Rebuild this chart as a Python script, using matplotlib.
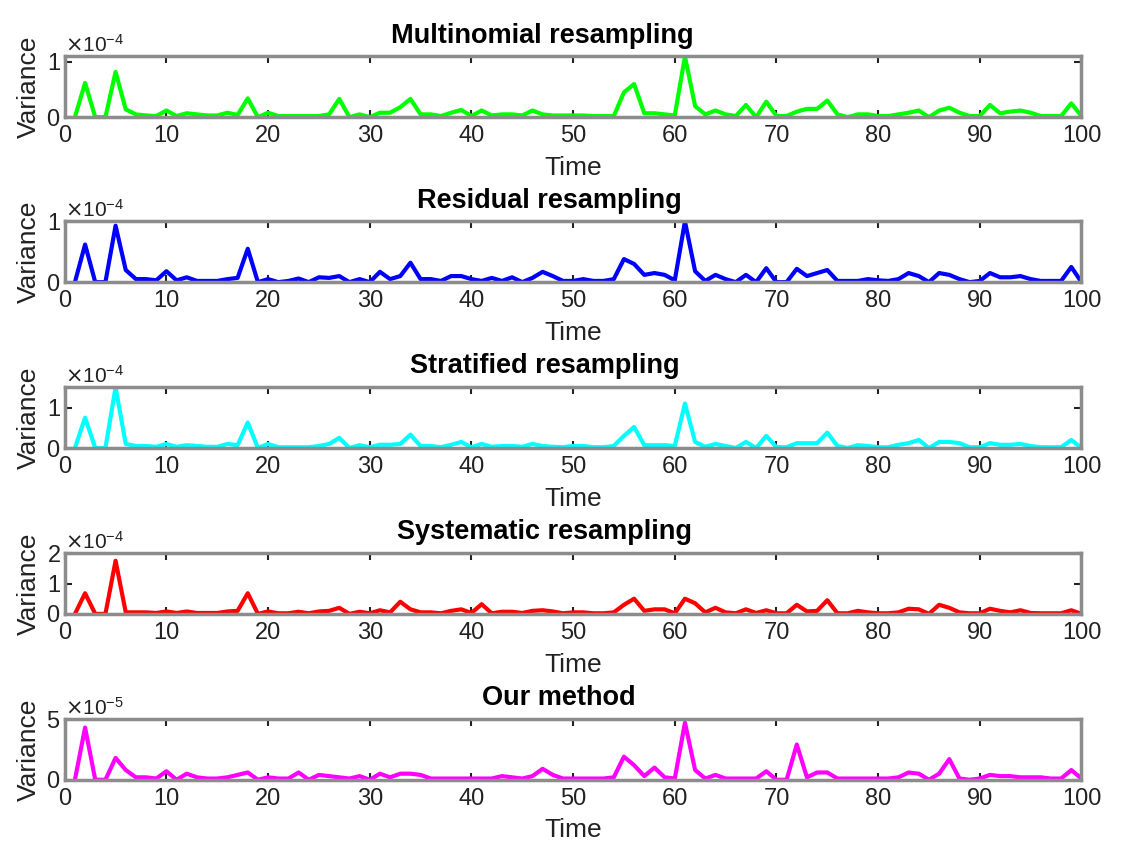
import matplotlib.pyplot as plt
import numpy as np
from matplotlib.ticker import ScalarFormatter

plt.rcParams['font.family'] = ['Liberation Sans', 'DejaVu Sans']

t = np.arange(1, 101)

# variance values (units 1e-4, last one 1e-5)
multinomial = [
    0, 0.62, 0, 0, 0.82, 0.14, 0.05, 0.03, 0.02, 0.12,
    0.02, 0.07, 0.05, 0.03, 0.03, 0.08, 0.04, 0.34, 0.0, 0.08,
    0.02, 0.02, 0.02, 0.02, 0.02, 0.05, 0.33, 0.0, 0.05, 0.0,
    0.08, 0.08, 0.18, 0.33, 0.05, 0.05, 0.02, 0.08, 0.13, 0.02,
    0.12, 0.03, 0.05, 0.05, 0.03, 0.12, 0.05, 0.03, 0.03, 0.03,
    0.03, 0.02, 0.02, 0.02, 0.45, 0.6, 0.07, 0.07, 0.05, 0.03,
    1.1, 0.2, 0.05, 0.12, 0.05, 0.02, 0.22, 0.0, 0.28, 0.02,
    0.02, 0.1, 0.15, 0.15, 0.3, 0.05, 0.0, 0.05, 0.05, 0.02,
    0.02, 0.05, 0.08, 0.12, 0.0, 0.12, 0.17, 0.08, 0.02, 0.02,
    0.22, 0.07, 0.1, 0.12, 0.08, 0.02, 0.02, 0.02, 0.25, 0.02]
residual = [
    0, 0.62, 0, 0, 0.93, 0.2, 0.05, 0.05, 0.03, 0.18,
    0.03, 0.08, 0.02, 0.02, 0.02, 0.05, 0.07, 0.55, 0.0, 0.05,
    0.0, 0.02, 0.06, 0.0, 0.08, 0.07, 0.1, 0.0, 0.05, 0.0,
    0.17, 0.05, 0.1, 0.32, 0.05, 0.05, 0.02, 0.1, 0.1, 0.05,
    0.02, 0.07, 0.02, 0.08, 0.0, 0.07, 0.17, 0.1, 0.02, 0.02,
    0.05, 0.02, 0.02, 0.05, 0.38, 0.3, 0.12, 0.15, 0.12, 0.03,
    1.0, 0.18, 0.02, 0.12, 0.05, 0.0, 0.12, 0.0, 0.23, 0.0,
    0.0, 0.22, 0.1, 0.15, 0.2, 0.02, 0.02, 0.02, 0.05, 0.03,
    0.02, 0.05, 0.15, 0.1, 0.0, 0.15, 0.12, 0.05, 0.0, 0.02,
    0.15, 0.08, 0.08, 0.1, 0.05, 0.02, 0.02, 0.02, 0.25, 0.0]
stratified = [
    0, 0.75, 0, 0, 1.5, 0.1, 0.05, 0.05, 0.03, 0.1,
    0.03, 0.07, 0.05, 0.03, 0.03, 0.1, 0.07, 0.63, 0.0, 0.1,
    0.02, 0.02, 0.02, 0.02, 0.05, 0.1, 0.25, 0.0, 0.07, 0.02,
    0.08, 0.08, 0.1, 0.33, 0.05, 0.05, 0.02, 0.08, 0.15, 0.02,
    0.1, 0.03, 0.05, 0.05, 0.03, 0.1, 0.05, 0.03, 0.02, 0.05,
    0.05, 0.02, 0.02, 0.05, 0.3, 0.52, 0.07, 0.07, 0.07, 0.05,
    1.1, 0.15, 0.03, 0.1, 0.05, 0.0, 0.15, 0.0, 0.3, 0.02,
    0.02, 0.12, 0.12, 0.12, 0.38, 0.05, 0.0, 0.07, 0.05, 0.02,
    0.02, 0.08, 0.12, 0.2, 0.0, 0.15, 0.15, 0.12, 0.02, 0.02,
    0.12, 0.08, 0.08, 0.1, 0.05, 0.02, 0.02, 0.02, 0.2, 0.0]
systematic = [
    0, 0.68, 0, 0, 1.75, 0.05, 0.05, 0.05, 0.03, 0.08,
    0.03, 0.08, 0.03, 0.03, 0.03, 0.08, 0.1, 0.68, 0.0, 0.08,
    0.02, 0.02, 0.07, 0.02, 0.08, 0.1, 0.2, 0.0, 0.07, 0.02,
    0.12, 0.05, 0.4, 0.15, 0.05, 0.05, 0.02, 0.1, 0.15, 0.03,
    0.32, 0.02, 0.07, 0.07, 0.03, 0.1, 0.12, 0.08, 0.02, 0.05,
    0.05, 0.02, 0.02, 0.05, 0.3, 0.5, 0.1, 0.15, 0.15, 0.02,
    0.5, 0.35, 0.05, 0.2, 0.05, 0.02, 0.15, 0.03, 0.12, 0.02,
    0.02, 0.3, 0.08, 0.1, 0.45, 0.02, 0.02, 0.1, 0.05, 0.02,
    0.02, 0.05, 0.17, 0.15, 0.0, 0.3, 0.2, 0.05, 0.02, 0.02,
    0.17, 0.1, 0.05, 0.12, 0.03, 0.02, 0.02, 0.02, 0.12, 0.0]
ours = [
    0, 4.3, 0, 0, 1.8, 0.8, 0.2, 0.2, 0.1, 0.7,
    0.0, 0.5, 0.2, 0.1, 0.1, 0.2, 0.4, 0.6, 0.0, 0.2,
    0.1, 0.1, 0.6, 0.0, 0.4, 0.3, 0.2, 0.1, 0.3, 0.0,
    0.5, 0.2, 0.5, 0.5, 0.4, 0.1, 0.1, 0.1, 0.1, 0.1,
    0.1, 0.1, 0.3, 0.2, 0.1, 0.3, 0.9, 0.4, 0.1, 0.1,
    0.1, 0.1, 0.1, 0.2, 1.9, 1.2, 0.3, 1.0, 0.2, 0.1,
    4.7, 0.8, 0.1, 0.4, 0.1, 0.1, 0.1, 0.1, 0.7, 0.0,
    0.0, 2.9, 0.2, 0.6, 0.6, 0.1, 0.1, 0.1, 0.1, 0.1,
    0.1, 0.2, 0.6, 0.5, 0.0, 0.5, 1.7, 0.1, 0.0, 0.1,
    0.4, 0.3, 0.3, 0.2, 0.2, 0.2, 0.1, 0.1, 0.8, 0.1]

titles = ['Multinomial resampling', 'Residual resampling',
          'Stratified resampling', 'Systematic resampling', 'Our method']
series = [multinomial, residual, stratified, systematic, ours]
scales = [1e-4, 1e-4, 1e-4, 1e-4, 1e-5]
colors = ['#00ff00', '#0000ff', '#00ffff', '#ff0000', '#ff00ff']
ylims = [1.1, 1.0, 1.5, 2.0, 5.0]
yticks = [[0, 1], [0, 1], [0, 1], [0, 1, 2], [0, 5]]
title_x = [0.47, 0.477, 0.472, 0.472, 0.486]

fig = plt.figure(figsize=(11.36, 8.55), dpi=100)
bottoms = [0.863, 0.670, 0.476, 0.282, 0.088]

for i in range(5):
    ax = fig.add_axes([0.057, bottoms[i], 0.895, 0.071])
    y = np.array(series[i]) * scales[i]
    ax.plot(t, y, color=colors[i], lw=3)
    ax.set_xlim(0, 100)
    ax.set_ylim(0, ylims[i] * scales[i])
    ax.set_xticks(range(0, 101, 10))
    ax.set_yticks(np.array(yticks[i]) * scales[i])
    fmt = ScalarFormatter(useMathText=True)
    fmt.set_powerlimits((0, 0))
    ax.yaxis.set_major_formatter(fmt)
    ax.yaxis.get_offset_text().set_fontsize(15)
    ax.yaxis.get_offset_text().set_color('#555555')
    ax.tick_params(direction='in', top=True, right=True, length=5, width=1.5,
                   labelsize=17, colors='#222222', pad=3)
    ax.tick_params(axis='x', pad=6)
    for s in ax.spines.values():
        s.set_color('#8c8c8c')
        s.set_linewidth(2.5)
    ax.set_title(titles[i], fontsize=19.5, fontweight='bold', pad=10,
                 x=title_x[i])
    ax.set_xlabel('Time', fontsize=19, labelpad=6, color='#222222')
    ax.set_ylabel('Variance', fontsize=19, labelpad=4, color='#222222')

fig.savefig('out.png', dpi=100)
